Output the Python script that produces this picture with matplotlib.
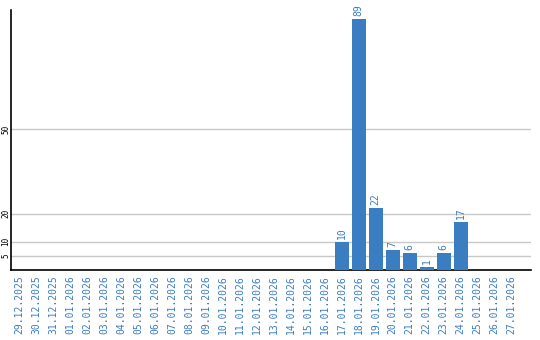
import numpy as np
import matplotlib
matplotlib.use('Agg')
import matplotlib.pyplot as plt

## Data
dates = ['29.12.2025', '30.12.2025', '31.12.2025', '01.01.2026', '02.01.2026',
         '03.01.2026', '04.01.2026', '05.01.2026', '06.01.2026', '07.01.2026',
         '08.01.2026', '09.01.2026', '10.01.2026', '11.01.2026', '12.01.2026',
         '13.01.2026', '14.01.2026', '15.01.2026', '16.01.2026', '17.01.2026',
         '18.01.2026', '19.01.2026', '20.01.2026', '21.01.2026', '22.01.2026',
         '23.01.2026', '24.01.2026', '25.01.2026', '26.01.2026', '27.01.2026']
counts = [0, 0, 0, 0, 0, 0, 0, 0, 0, 0, 0, 0, 0, 0, 0,
          0, 0, 0, 0, 10, 89, 22, 7, 6, 1, 6, 17, 0, 0, 0]
yticks = [5, 10, 20, 50]

blue = '#3a7dc1'

## Figure
fig = plt.figure(figsize=(5.4, 3.4), dpi=100)
ax = fig.add_axes([11/540, 70/340, 520/540, 260/340])

x = np.arange(len(dates))
bars = ax.bar(x, counts, width=0.82, color=blue, zorder=3)

# Value labels above non-empty bars
for xi, c in zip(x, counts):
    if c > 0:
        ax.annotate(str(c), (xi, c), xytext=(0, 2), textcoords='offset points',
                    rotation=90, ha='center', va='bottom', color=blue,
                    fontsize=7, family='DejaVu Sans Mono')

ax.set_xlim(-0.5, 30.15)
ax.set_ylim(0, 92.2)
ax.set_xticks(x)
ax.set_xticklabels(dates, rotation=90, color=blue, fontsize=7,
                   family='DejaVu Sans Mono')
ax.set_yticks(yticks)
ax.set_yticklabels([str(t) for t in yticks], rotation=90, va='center',
                   fontsize=5.5, family='DejaVu Sans Mono')
ax.tick_params(axis='both', length=0)
ax.tick_params(axis='x', pad=4)
ax.tick_params(axis='y', pad=0.5)

ax.grid(axis='y', color='#c8c8c8', linewidth=1, zorder=0)
for s in ['top', 'right']:
    ax.spines[s].set_visible(False)
for s in ['left', 'bottom']:
    ax.spines[s].set_color('black')
    ax.spines[s].set_linewidth(1.2)

fig.savefig('out.png', dpi=100)
